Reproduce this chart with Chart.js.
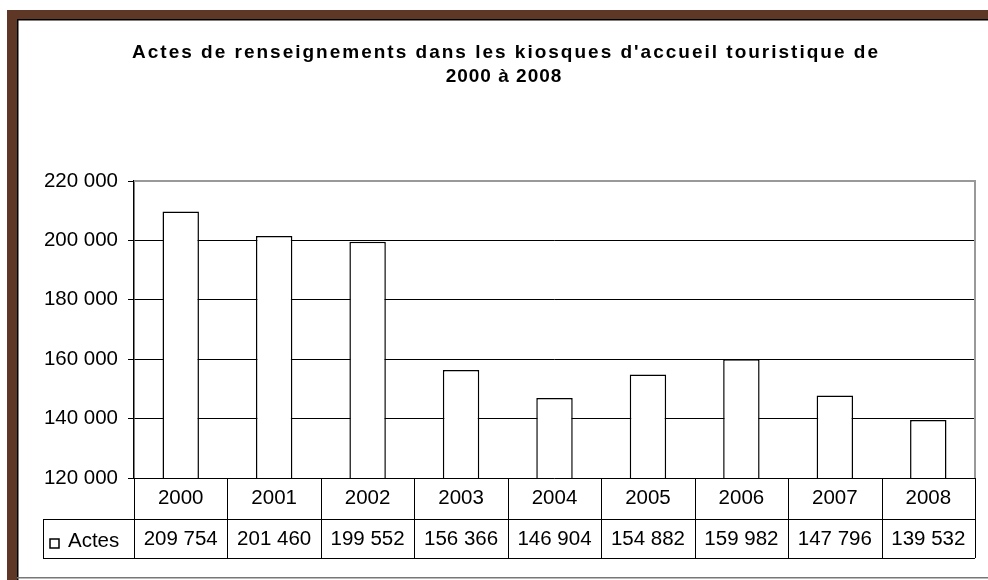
<!DOCTYPE html>
<html>
<head>
<meta charset="utf-8">
<title>Actes de renseignements</title>
<script src="https://cdn.jsdelivr.net/npm/chart.js@4"></script>
<style>
  html, body { margin: 0; padding: 0; background: #fff; }
  #wrap { width: 988px; height: 580px; position: relative; }
</style>
</head>
<body>
<div id="wrap"><canvas id="chart" width="988" height="580"></canvas></div>
<script>
// data
const years = ["2000", "2001", "2002", "2003", "2004", "2005", "2006", "2007", "2008"];
const actes = [209754, 201460, 199552, 156366, 146904, 154882, 159982, 147796, 139532];
const seriesName = "Actes";
const titleLines = [
  "Actes de renseignements dans les kiosques d'accueil touristique de",
  "2000 à 2008",
];
const yMin = 120000;
const yMax = 220000;
const yStep = 20000;

const FONT = "'Liberation Sans', Arial, sans-serif";

function fmt(v) {
  return String(v).replace(/\B(?=(\d{3})+(?!\d))/g, " ");
}

// brown frame + title + plot border + data table
const decor = {
  id: "decor",
  beforeDraw(chart) {
    const ctx = chart.ctx;
    ctx.save();
    ctx.fillStyle = "#fff";
    ctx.fillRect(0, 0, chart.width, chart.height);
    ctx.fillStyle = "#5f3727";
    ctx.fillRect(7, 10, chart.width - 7, 9);
    ctx.fillRect(7, 10, 10, chart.height - 10);
    ctx.fillStyle = "#000";
    ctx.fillRect(17, 19, chart.width - 17, 1.5);
    ctx.fillRect(17, 19, 1.5, chart.height - 19);
    ctx.fillStyle = "#777";
    ctx.fillRect(17, 577, chart.width - 17, 1.5);

    // title (Excel-like wide letter spacing)
    ctx.fillStyle = "#000";
    ctx.font = "bold 19px " + FONT;
    ctx.letterSpacing = "2px";
    ctx.textAlign = "center";
    ctx.textBaseline = "alphabetic";
    ctx.fillText(titleLines[0], 506, 58);
    ctx.letterSpacing = "1px";
    ctx.fillText(titleLines[1], 504, 82);
    ctx.letterSpacing = "0px";
    ctx.restore();
  },
  afterDraw(chart) {
    const ctx = chart.ctx;
    const area = chart.chartArea;
    const x = chart.scales.x;
    const catW = (area.right - area.left) / years.length;
    const r1 = area.bottom, r2 = 519, r3 = 558, legL = 43;
    ctx.save();
    // gray border top/right of plot
    ctx.strokeStyle = "#999";
    ctx.lineWidth = 2;
    ctx.beginPath();
    ctx.moveTo(area.left, area.top);
    ctx.lineTo(area.right, area.top);
    ctx.lineTo(area.right, area.bottom);
    ctx.stroke();

    ctx.strokeStyle = "#000";
    ctx.lineWidth = 1;
    ctx.beginPath();
    for (let i = 0; i <= years.length; i++) {
      const px = Math.round(area.left + i * catW) + 0.5;
      ctx.moveTo(px, r1);
      ctx.lineTo(px, r3);
    }
    ctx.moveTo(legL, r2 + 0.5);
    ctx.lineTo(area.right, r2 + 0.5);
    ctx.moveTo(legL, r3 + 0.5);
    ctx.lineTo(area.right, r3 + 0.5);
    ctx.moveTo(legL + 0.5, r2);
    ctx.lineTo(legL + 0.5, r3);
    ctx.stroke();

    ctx.fillStyle = "#000";
    ctx.font = "20.5px " + FONT;
    ctx.textAlign = "center";
    ctx.textBaseline = "middle";
    years.forEach((y, i) => {
      const cx = x.getPixelForValue(i);
      ctx.fillText(y, cx, 498);
      ctx.fillText(fmt(actes[i]), cx, 539);
    });
    // legend key
    ctx.lineWidth = 1.5;
    ctx.strokeRect(50, 539, 9, 9);
    ctx.textAlign = "left";
    ctx.fillText(seriesName, 68, 541);
    ctx.restore();
  }
};

new Chart(document.getElementById("chart"), {
  type: "bar",
  data: {
    labels: years,
    datasets: [
      {
        label: seriesName,
        data: actes,
        backgroundColor: "#fff",
        borderColor: "#000",
        borderWidth: 1.5,
        borderSkipped: false,
        categoryPercentage: 1,
        barPercentage: 0.39,
      },
    ],
  },
  options: {
    responsive: false,
    animation: false,
    devicePixelRatio: 1,
    layout: { padding: { left: 0, right: 13, top: 181, bottom: 0 } },
    plugins: {
      legend: { display: false },
      tooltip: { enabled: false },
      title: { display: false },
    },
    scales: {
      x: {
        ticks: { display: false },
        grid: { display: false },
        border: { display: false },
        afterFit: (s) => { s.height = 102; },
      },
      y: {
        min: yMin,
        max: yMax,
        ticks: {
          stepSize: yStep,
          padding: 10,
          color: "#000",
          font: { family: FONT, size: 20.5 },
          callback: (v) => fmt(v),
        },
        grid: {
          color: (c) => (c.tick && c.tick.value === yMax ? "#999" : "#000"),
          tickColor: "#000",
          tickLength: 6,
          lineWidth: 1,
        },
        border: { display: true, color: "#000", width: 1.5 },
        afterFit: (s) => { s.width = 134; },
      },
    },
  },
  plugins: [decor],
});
</script>
</body>
</html>
